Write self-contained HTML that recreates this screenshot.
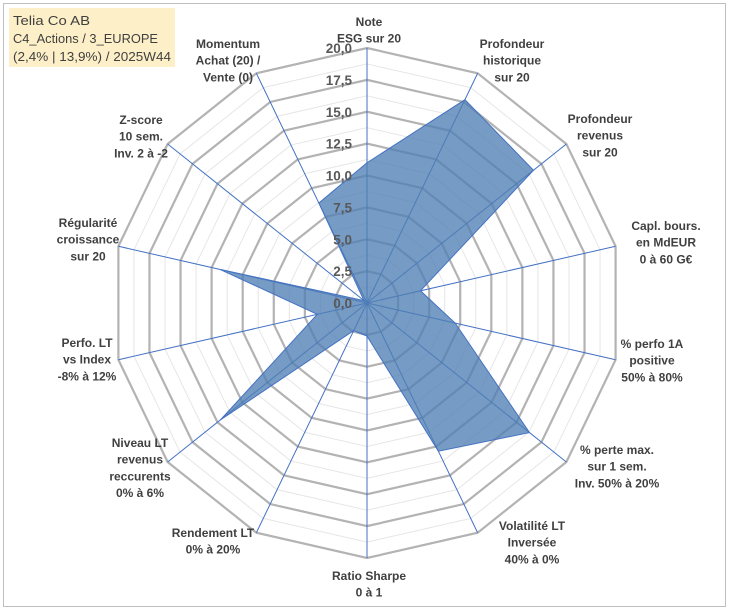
<!DOCTYPE html>
<html><head><meta charset="utf-8"><style>
body{margin:0;background:#fff;width:729px;height:610px;overflow:hidden;font-family:"Liberation Sans",sans-serif}
svg{position:absolute;left:0;top:0}
</style></head><body>
<svg id="c" width="729" height="610">
<rect x="3.5" y="3.5" width="722" height="603" fill="#fff" stroke="#bfbfbf"/>
<rect x="9" y="8" width="166" height="59" fill="#fdf0c8"/>
<g font-size="13" fill="#404040">
<text x="13" y="25" textLength="77" lengthAdjust="spacingAndGlyphs">Telia Co AB</text>
<text x="13" y="43" textLength="145" lengthAdjust="spacingAndGlyphs">C4_Actions / 3_EUROPE</text>
<text x="13" y="61" textLength="158" lengthAdjust="spacingAndGlyphs">(2,4% | 13,9%) / 2025W44</text>
</g>
<g id="grid"></g><g id="series"></g><g id="labels"></g><g id="ticks"></g>
</svg>
<script>
const categories=[["Note","ESG sur 20"],["Profondeur","historique","sur 20"],["Profondeur","revenus","sur 20"],["Capl. bours.","en MdEUR","0 à 60 G€"],["% perfo 1A","positive","50% à 80%"],["% perte max.","sur 1 sem.","Inv. 50% à 20%"],["Volatilité LT","Inversée","40% à 0%"],["Ratio Sharpe","0 à 1"],["Rendement LT","0% à 20%"],["Niveau LT","revenus","reccurents","0% à 6%"],["Perfo. LT","vs Index","-8% à 12%"],["Régularité","croissance","sur 20"],["Z-score","10 sem.","Inv. 2 à -2"],["Momentum","Achat (20) /","Vente (0)"]];
const values=[11.0,17.7,16.7,4.3,7.1,16.3,12.9,2.6,2.4,14.7,4.0,11.8,0.3,8.7];
const tickLabels=["0,0","2,5","5,0","7,5","10,0","12,5","15,0","17,5","20,0"];
const maxV=20;
const labelPos=[[369,26],[512,48],[600,123],[666,230],[652,348],[617,454],[532,530],[369,580],[213,537],[140,447],[87,347],[88,227],[141,124],[228,48]];
const cx=367,cy=303,R=255,N=categories.length,NS="http://www.w3.org/2000/svg";
function pt(i,v){const a=2*Math.PI*i/N;const r=v/maxV*R;return [cx+r*Math.sin(a),cy-r*Math.cos(a)];}
function mk(t,attrs,parent){const e=document.createElementNS(NS,t);for(const k in attrs)e.setAttribute(k,attrs[k]);parent.appendChild(e);return e;}
const grid=document.getElementById('grid');
for(let k=1;k<=16;k++){const v=k*1.25;const p=[];for(let i=0;i<N;i++)p.push(pt(i,v).join(','));
const major=k%2===0;
const e=mk('polygon',{points:p.join(' '),fill:'none',stroke:major?'#b3b3b3':'#e6e6e6','stroke-width':major?2.2:1},grid);

}
for(let i=0;i<N;i++){const p=pt(i,maxV);const e=mk('line',{x1:cx,y1:cy,x2:p[0],y2:p[1],stroke:'#4472c4','stroke-width':1},grid);

}
const sp=values.map((v,i)=>pt(i,v).join(',')).join(' ');
const poly=mk('polygon',{points:sp,fill:'#4f7fb4','fill-opacity':0.78,stroke:'#4472c4','stroke-width':1},document.getElementById('series'));


const lab=document.getElementById('labels');
categories.forEach((c,i)=>{const t=mk('text',{x:labelPos[i][0],y:labelPos[i][1],'text-anchor':'middle','font-size':12,'font-weight':'bold',fill:'#404040'},lab);


c.forEach((s,j)=>{const ts=mk('tspan',{x:labelPos[i][0],dy:j?16.7:0},t);ts.textContent=s;});});
const tk=document.getElementById('ticks');
tickLabels.forEach((s,k)=>{const v=k*2.5;const t=mk('text',{x:352,y:cy-v/maxV*R+5,'text-anchor':'end','font-size':13.5,'font-weight':'bold',fill:'#595959'},tk);


t.textContent=s;});
</script>
</body></html>
